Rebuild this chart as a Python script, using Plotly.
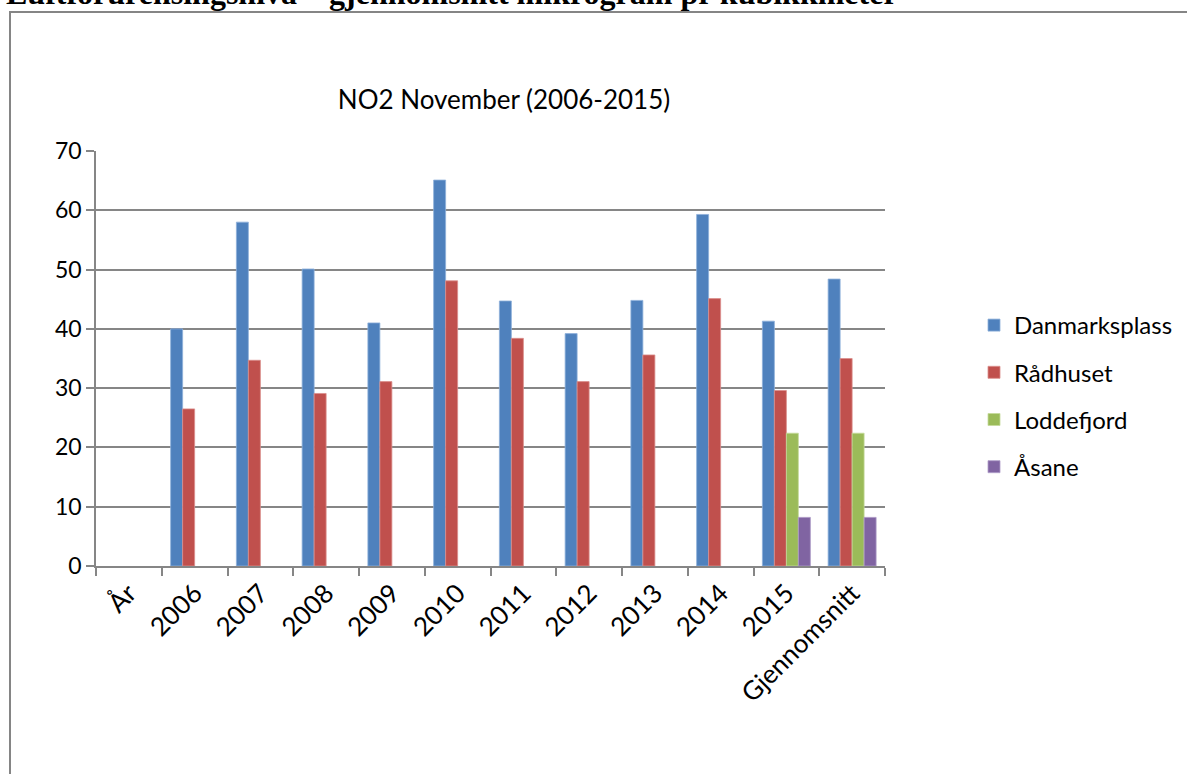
import plotly.graph_objects as go

categories = ["År", "2006", "2007", "2008", "2009", "2010", "2011", "2012", "2013", "2014", "2015", "Gjennomsnitt"]
danmarksplass = [None, 40.0, 58.0, 50.1, 41.0, 65.1, 44.7, 39.2, 44.8, 59.3, 41.3, 48.4]
radhuset = [None, 26.5, 34.7, 29.1, 31.1, 48.1, 38.4, 31.1, 35.6, 45.1, 29.6, 35.0]
loddefjord = [None, None, None, None, None, None, None, None, None, None, 22.4, 22.4]
asane = [None, None, None, None, None, None, None, None, None, None, 8.2, 8.2]

series_names = ["Danmarksplass", "Rådhuset", "Loddefjord", "Åsane"]
series_values = [danmarksplass, radhuset, loddefjord, asane]
colors = ["#4F81BD", "#C0504D", "#9BBB59", "#8064A2"]
edge_colors = ["#8EB0DA", "#DA8E8C", "#C5DA9C", "#AF9CC8"]

W, H = 1187, 774
L, R, T, B = 96, 885, 151, 566
pw, ph = R - L, B - T

def px(x):
    return (x - L) / pw

def py(y):
    return (B - y) / ph

fig = go.Figure()
for name, vals, c, ec in zip(series_names, series_values, colors, edge_colors):
    fig.add_trace(go.Bar(x=categories, y=vals, name=name, legendgroup=name,
                         marker=dict(color=c, line=dict(color=ec, width=0.8))))

grid = "#868686"
fig.update_layout(
    width=W, height=H,
    margin=dict(l=L, r=W - R, t=T, b=H - B, autoexpand=False),
    paper_bgcolor="white", plot_bgcolor="white",
    barmode="group", bargap=0.27, bargroupgap=0,
    font=dict(family="Lato, Carlito, Calibri, sans-serif", color="black"),
    title=dict(text="NO2 November (2006-2015)", x=px(504), xref="paper", xanchor="center",
               y=1 - 100 / H, yanchor="middle", font=dict(size=26, color="black")),
    xaxis=dict(type="category", tickson="boundaries", ticks="outside", ticklen=8,
               tickcolor=grid, tickwidth=1.5, showline=True, linecolor=grid, linewidth=1.5,
               tickangle=-45, tickfont=dict(size=26), showgrid=False),
    yaxis=dict(range=[0, 70], dtick=10, ticks="outside", ticklen=8, tickcolor=grid, tickwidth=1.5,
               showline=True, linecolor=grid, linewidth=1.5, showgrid=True, gridcolor=grid,
               gridwidth=1.5, zeroline=False, tickfont=dict(size=23)),
    legend=dict(x=px(974), y=py(303), xanchor="left", yanchor="top", font=dict(size=24),
                tracegroupgap=13, itemwidth=30, bgcolor="rgba(0,0,0,0)"),
    showlegend=True,
)

# Outer frame (document text box border)
fig.add_shape(type="rect", xref="paper", yref="paper",
              x0=px(10), x1=px(1200), y0=py(800), y1=py(12),
              line=dict(color="#858585", width=2), layer="below")

# Clipped document heading above the chart
fig.add_annotation(text="<b>Luftforurensingsnivå – gjennomsnitt mikrogram pr kubikkmeter</b>",
                   xref="paper", yref="paper", x=px(4), y=py(13), xanchor="left", yanchor="bottom",
                   showarrow=False, font=dict(family="Liberation Serif, Times New Roman, serif", size=32, color="black"))

fig.write_html("out.html", config={"displayModeBar": False},
               post_script="document.body.style.margin='0';document.body.style.overflow='hidden';")
